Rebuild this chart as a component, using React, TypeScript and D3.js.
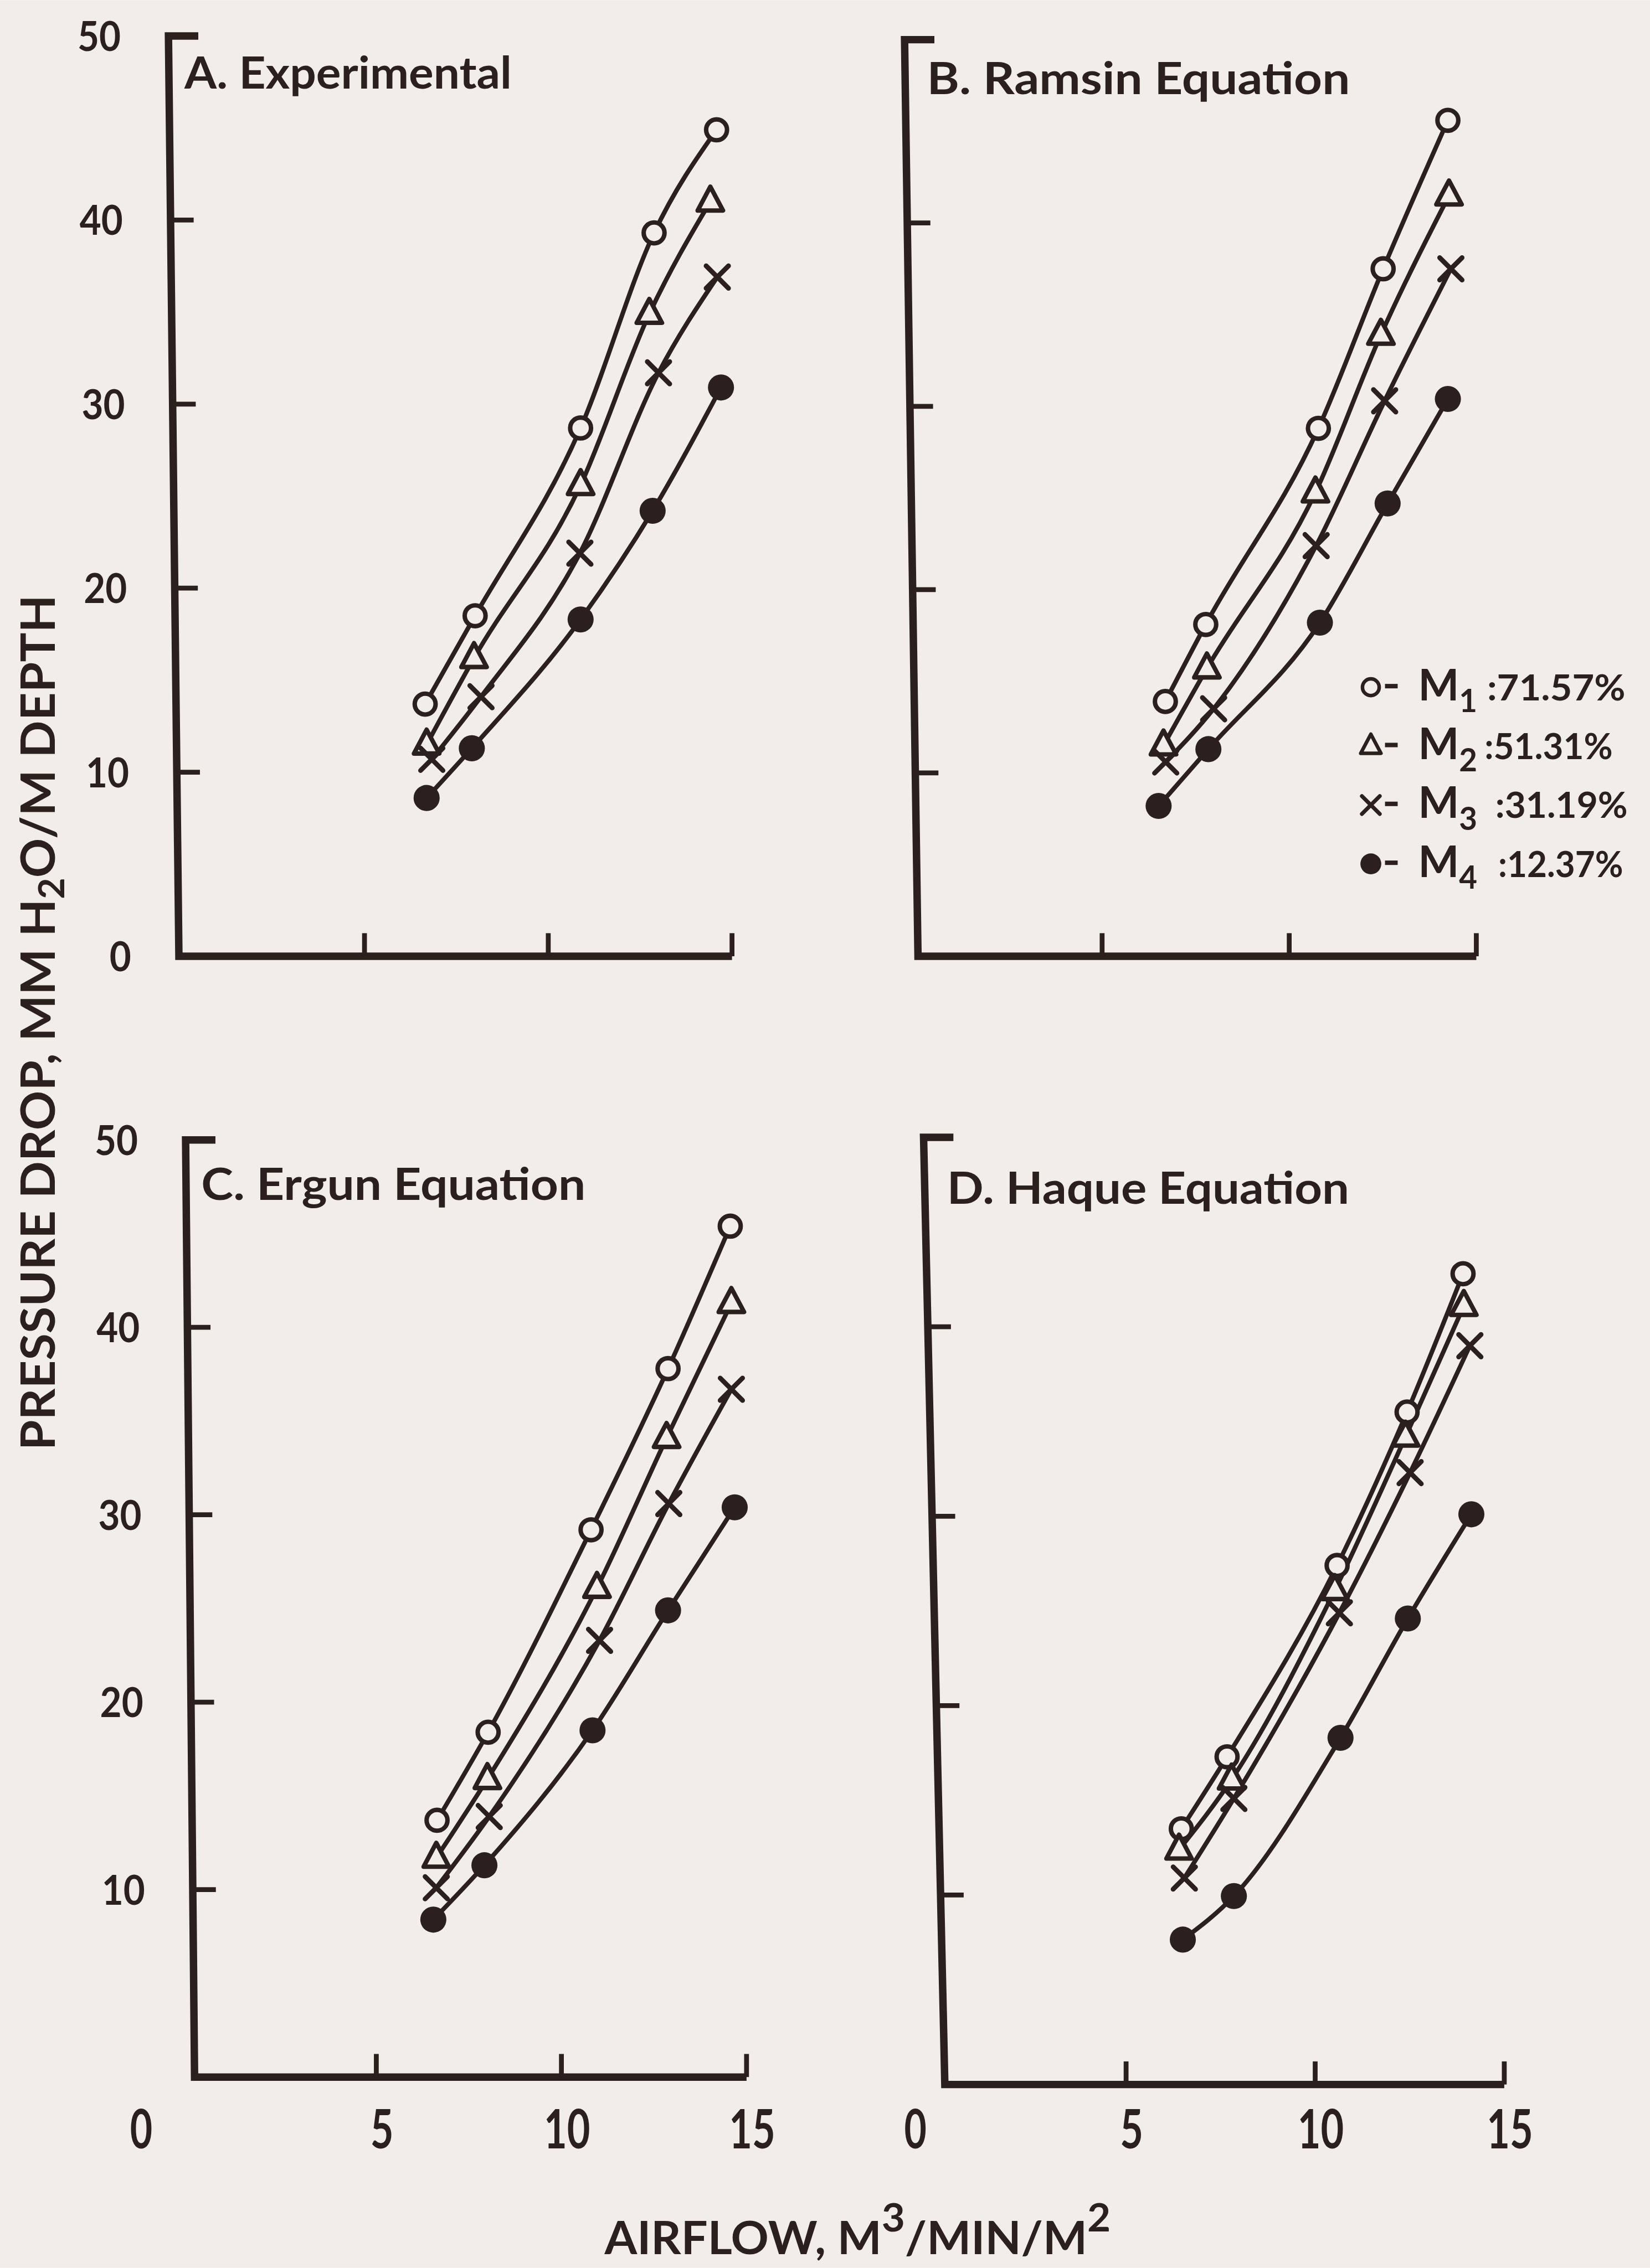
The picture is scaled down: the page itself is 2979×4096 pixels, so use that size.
import * as d3 from "d3";

// reference page size, drawn scaled into the 2979x4096 window via viewBox
const W = 4427;
const H = 6086;
const INK = "#2b201d";
const PAPER = "#f1eee9";
const FONT = "Lato, 'Open Sans', 'DejaVu Sans', sans-serif";

// moisture levels (legend)
const seriesNames = ["M", "M", "M", "M"];
const seriesSubs = ["1", "2", "3", "4"];
const seriesValues = [":71.57%", ":51.31%", ":31.19%", ":12.37%"];
const seriesShapes = ["circle", "triangle", "cross", "dot"];

const yTicks = [10, 20, 30, 40];
const yLabelTicks = [0, 10, 20, 30, 40, 50];
const xTicks = [5, 10, 15];

const panelTitles = ["A. Experimental", "B. Ramsin Equation", "C. Ergun Equation", "D. Haque Equation"];

// A. Experimental — airflow (m3/min/m2) and pressure drop (mm H2O/m) per series M1..M4
const expAirflow = [
  [6.65, 8.01, 10.88, 12.88, 14.58],
  [6.69, 7.98, 10.88, 12.75, 14.41],
  [6.83, 8.17, 10.86, 13.0, 14.6],
  [6.69, 7.92, 10.88, 12.84, 14.7],
];
const expDrop = [
  [13.7, 18.5, 28.7, 39.3, 44.9],
  [11.5, 16.2, 25.6, 34.9, 41.0],
  [10.7, 14.1, 21.9, 31.7, 36.9],
  [8.6, 11.3, 18.3, 24.2, 30.9],
];

// B. Ramsin equation
const ramsinAirflow = [
  [6.69, 7.77, 10.78, 12.51, 14.24],
  [6.64, 7.8, 10.7, 12.45, 14.27],
  [6.7, 7.98, 10.72, 12.55, 14.32],
  [6.51, 7.84, 10.82, 12.63, 14.24],
];
const ramsinDrop = [
  [13.9, 18.1, 28.8, 37.5, 45.6],
  [11.5, 15.7, 25.3, 33.9, 41.5],
  [10.6, 13.5, 22.4, 30.3, 37.5],
  [8.2, 11.3, 18.2, 24.7, 30.4],
];

// C. Ergun equation
const ergunAirflow = [
  [6.64, 8.02, 10.8, 12.88, 14.56],
  [6.62, 8.0, 10.96, 12.84, 14.59],
  [6.62, 8.05, 11.03, 12.9, 14.59],
  [6.54, 7.92, 10.84, 12.88, 14.68],
];
const ergunDrop = [
  [13.7, 18.4, 29.2, 37.8, 45.4],
  [11.7, 15.9, 26.1, 34.1, 41.3],
  [10.1, 13.9, 23.3, 30.6, 36.7],
  [8.4, 11.3, 18.5, 24.9, 30.4],
];

// D. Haque equation
const haqueAirflow = [
  [6.46, 7.67, 10.58, 12.43, 13.91],
  [6.4, 7.79, 10.52, 12.39, 13.93],
  [6.54, 7.85, 10.64, 12.51, 14.09],
  [6.5, 7.85, 10.67, 12.45, 14.13],
];
const haqueDrop = [
  [13.5, 17.3, 27.4, 35.5, 42.8],
  [12.4, 16.1, 26.1, 34.2, 41.1],
  [10.9, 15.1, 24.9, 32.3, 39.0],
  [7.65, 9.95, 18.3, 24.6, 30.1],
];

// panel frames, in reference pixels (axes lean a little, as in the photo)
const panels = [
  { title: panelTitles[0], airflow: expAirflow, drop: expDrop, xr: [485, 1964], yr: [2566, 96], axTop: 452, axBot: 480, tx: 495, ty: 238, tl: 878, yLabels: true, xLabels: false, zeroX: 0, legend: false },
  { title: panelTitles[1], airflow: ramsinAirflow, drop: ramsinDrop, xr: [2455, 3961], yr: [2566, 106], axTop: 2427, axBot: 2463, tx: 2487, ty: 252, tl: 1135, yLabels: false, xLabels: false, zeroX: 0, legend: true },
  { title: panelTitles[2], airflow: ergunAirflow, drop: ergunDrop, xr: [513, 2003], yr: [5574, 3059], axTop: 498, axBot: 522, tx: 540, ty: 3220, tl: 1031, yLabels: true, xLabels: true, zeroX: 379, legend: false },
  { title: panelTitles[3], airflow: haqueAirflow, drop: haqueDrop, xr: [2514, 4036], yr: [5594, 3052], axTop: 2478, axBot: 2535, tx: 2541, ty: 3230, tl: 1079, yLabels: false, xLabels: true, zeroX: 2456, legend: false },
];

const legendLayout = { markX: 3678, dashX: 3716, mX: 3805, base: 1879, step: 158, colonX: [3990, 3983, 4012, 4020], endX: [4361, 4327, 4367, 4355] };

function Marker({ shape, x, y, s = 1 }: { shape: string; x: number; y: number; s?: number }) {
  if (shape === "circle")
    return <circle cx={x} cy={y} r={28 * s} fill={PAPER} stroke={INK} strokeWidth={12 * s} />;
  if (shape === "dot") return <circle cx={x} cy={y} r={35 * s} fill={INK} />;
  if (shape === "triangle")
    return (
      <path
        d={`M${x},${y - 40 * s}L${x + 34 * s},${y + 24 * s}L${x - 34 * s},${y + 24 * s}Z`}
        fill={PAPER}
        stroke={INK}
        strokeWidth={12 * s}
        strokeLinejoin="round"
      />
    );
  const h = 30 * s;
  return (
    <path
      d={`M${x - h},${y - h}L${x + h},${y + h}M${x + h},${y - h}L${x - h},${y + h}`}
      stroke={INK}
      strokeWidth={13 * s}
      strokeLinecap="round"
      fill="none"
    />
  );
}

function Panel({ p }: { p: (typeof panels)[number] }) {
  const x = d3.scaleLinear().domain([0, 15]).range(p.xr);
  const y = d3.scaleLinear().domain([0, 50]).range(p.yr);
  // leaning y-axis: x position at a given pixel height
  const axisX = d3.scaleLinear().domain([y(50), y(0)]).range([p.axTop, p.axBot]);
  const line = d3
    .line<[number, number]>()
    .x((d) => x(d[0]))
    .y((d) => y(d[1]))
    .curve(d3.curveMonotoneX);

  return (
    <g>
      {/* axes */}
      <path
        d={`M${axisX(y(50)) + 80},${y(50)}L${axisX(y(50))},${y(50)}L${axisX(y(0))},${y(0)}L${x(15)},${y(0)}`}
        fill="none"
        stroke={INK}
        strokeWidth={20}
        strokeLinejoin="miter"
      />
      {yTicks.map((t) => (
        <line key={"yt" + t} x1={axisX(y(t))} x2={axisX(y(t)) + 62} y1={y(t)} y2={y(t)} stroke={INK} strokeWidth={13} />
      ))}
      {xTicks.map((t) => (
        <line key={"xt" + t} x1={x(t)} x2={x(t)} y1={y(0)} y2={y(0) - 62} stroke={INK} strokeWidth={13} />
      ))}

      {/* tick labels */}
      {p.yLabels &&
        yLabelTicks
          .filter((t) => t > 0 || !p.xLabels)
          .map((t) => (
            <text
              key={"yl" + t}
              x={axisX(y(t)) - 128}
              y={y(t) + 40}
              textAnchor="end"
              fontSize={112}
              fontWeight={700}
              textLength={String(t).length * 58}
              lengthAdjust="spacingAndGlyphs"
            >
              {t}
            </text>
          ))}
      {p.xLabels && (
        <g fontSize={146} fontWeight={700} textAnchor="middle">
          <text x={p.zeroX} y={5766} textLength={60} lengthAdjust="spacingAndGlyphs">
            0
          </text>
          {xTicks.map((t) => (
            <text key={"xl" + t} x={x(t) + 15} y={5766} textLength={String(t).length * 62} lengthAdjust="spacingAndGlyphs">
              {t}
            </text>
          ))}
        </g>
      )}

      {/* panel title */}
      <text x={p.tx} y={p.ty} fontSize={120} fontWeight={700} textLength={p.tl} lengthAdjust="spacingAndGlyphs">
        {p.title}
      </text>

      {/* curves */}
      {p.airflow.map((xs, i) => (
        <path
          key={"l" + i}
          d={line(xs.map((v, j) => [v, p.drop[i][j]] as [number, number])) ?? ""}
          fill="none"
          stroke={INK}
          strokeWidth={12}
        />
      ))}
      {p.airflow.map((xs, i) =>
        xs.map((v, j) => <Marker key={`m${i}-${j}`} shape={seriesShapes[i]} x={x(v)} y={y(p.drop[i][j])} />)
      )}

      {p.legend &&
        seriesNames.map((name, i) => {
          const by = legendLayout.base + i * legendLayout.step;
          return (
            <g key={"lg" + i} fontWeight={700}>
              <Marker shape={seriesShapes[i]} x={legendLayout.markX} y={by - 35} s={0.8} />
              <line x1={legendLayout.dashX} x2={legendLayout.dashX + 34} y1={by - 38} y2={by - 38} stroke={INK} strokeWidth={12} />
              <text x={legendLayout.mX} y={by} fontSize={116}>
                {name}
                <tspan dy={32} fontSize={84}>
                  {seriesSubs[i]}
                </tspan>
              </text>
              <text
                x={legendLayout.colonX[i]}
                y={by}
                fontSize={98}
                textLength={legendLayout.endX[i] - legendLayout.colonX[i]}
                lengthAdjust="spacingAndGlyphs"
              >
                {seriesValues[i]}
              </text>
            </g>
          );
        })}
    </g>
  );
}

export default function App() {
  return (
    <svg
      width={2979}
      height={4096}
      viewBox={`0 0 ${W} ${H}`}
      style={{ position: "absolute", left: 0, top: 0, display: "block" }}
      fontFamily={FONT}
      fill={INK}
    >
      <rect x={0} y={0} width={W} height={H} fill={PAPER} />
      {panels.map((p, i) => (
        <Panel key={i} p={p} />
      ))}

      {/* shared axis titles */}
      <text
        transform="translate(147, 2744) rotate(-90)"
        textAnchor="middle"
        fontSize={128}
        fontWeight={700}
        textLength={2296}
        lengthAdjust="spacingAndGlyphs"
      >
        PRESSURE DROP, MM H
        <tspan dy={26} fontSize={96}>
          2
        </tspan>
        <tspan dy={-26}>O/M DEPTH</tspan>
      </text>
      <text x={1622} y={6050} fontSize={121} fontWeight={700} textLength={1358} lengthAdjust="spacingAndGlyphs">
        AIRFLOW, M
        <tspan dy={-62} fontSize={104}>
          3
        </tspan>
        <tspan dy={62}>/MIN/M</tspan>
        <tspan dy={-62} fontSize={104}>
          2
        </tspan>
      </text>
    </svg>
  );
}
